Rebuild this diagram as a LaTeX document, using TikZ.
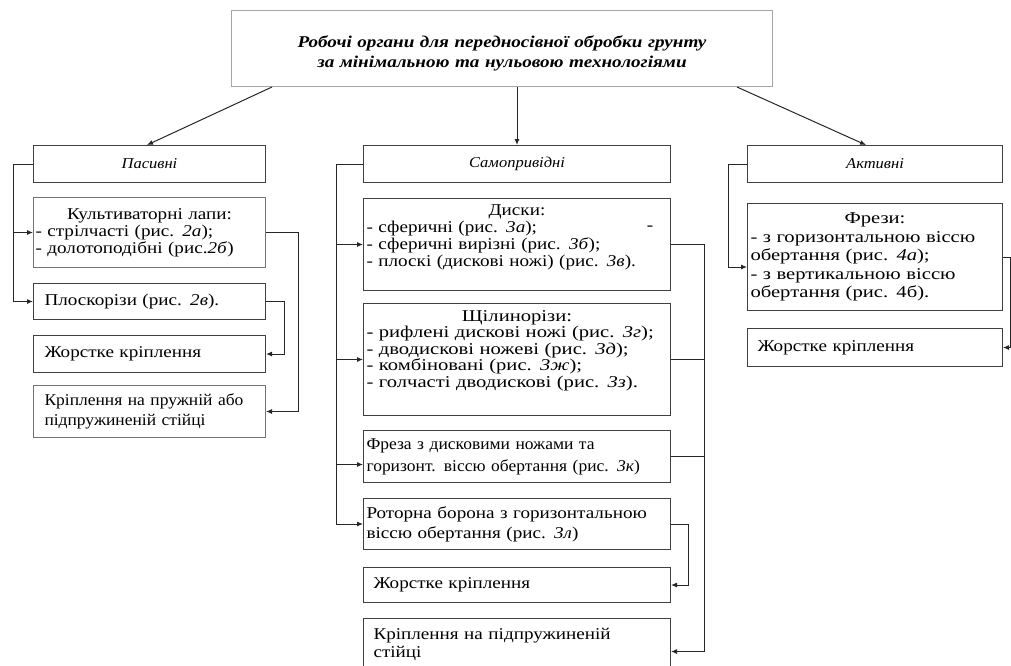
\documentclass[tikz,border=0pt]{standalone}
\usepackage{fontspec}
\setmainfont{Liberation Serif}[FakeStretch=1.16]
\newfontfamily\nar{Liberation Serif}[FakeStretch=1.06]
\newfontfamily\wid{Liberation Serif}[FakeStretch=1.25]
\newfontfamily\hdr{Liberation Serif}[FakeStretch=1.1]
\usetikzlibrary{arrows.meta,calc}
\newcommand\bt{\fontsize{16.5}{17}\selectfont}
\newcommand\hd{\hdr\itshape\fontsize{15}{17}\selectfont}
\newcommand\ttl[1]{\null\hfill #1\hfill\null}
\tikzset{
  box/.style={draw=black!75, line width=1pt, anchor=north west, inner xsep=4pt, inner ysep=1pt, font=\bt, align=left},
  lbox/.style={box, text width=224pt},
  cbox/.style={box, text width=299pt},
  rbox/.style={box, text width=247pt},
  arr/.style={draw=black!85, line width=1pt, -{Latex[length=6pt,width=5pt]}},
  ln/.style={draw=black!85, line width=1pt},
}
\begin{document}
\begin{tikzpicture}[x=1pt,y=-1pt]
\useasboundingbox (0,0) rectangle (1011,665);
% top
\node[box, draw=black!35, inner xsep=4pt, text width=533pt, minimum height=76pt, align=center, font=\bfseries\itshape\fontsize{16.5}{20}\selectfont] (top) at (231,10) {\rule{0pt}{22pt}Робочі органи для передносівної обробки грунту\\за мінімальною та нульовою технологіями};
% left column
\node[lbox, minimum height=37pt, align=center, font=\hd] (pas) at (33,145) {Пасивні};
\node[box, draw=black!55, inner xsep=2pt, text width=228pt, minimum height=70pt] (kul) at (33,197) {\ttl{Культиваторні лапи:}\\- стрілчасті (рис. \textit{2а});\\- долотоподібні (рис.\textit{2б})};
\node[box, inner xsep=11pt, text width=210pt, minimum height=36pt] (plo) at (33,283) {Плоскорізи (рис. \textit{2в}).};
\node[box, inner xsep=11pt, text width=210pt, minimum height=37pt] (zh1) at (33,335) {Жорстке кріплення};
\node[box, draw=black!55, inner xsep=11pt, text width=210pt, minimum height=52pt, font=\nar\fontsize{16.5}{20}\selectfont] (kr1) at (33,385) {Кріплення на пружній або\\підпружиненій стійці};
% center column
\node[cbox, minimum height=37pt, align=center, font=\hd] (sam) at (363,145) {Самопривідні};
\node[box, inner xsep=3pt, text width=301pt, minimum height=92pt] (dys) at (363,198) {\ttl{Диски:}\\- сферичні (рис. \textit{3а});\\- сферичні вирізні (рис. \textit{3б});\\- плоскі (дискові ножі) (рис. \textit{3в}).\rule[-17pt]{0pt}{0pt}};
\node[font=\bt] (dash) at (650,228) {-};
\node[box, inner xsep=3pt, text width=301pt, minimum height=112pt, font=\wid\fontsize{16.5}{16.5}\selectfont] (shch) at (363,303) {\ttl{Щілинорізи:}\\- рифлені дискові ножі (рис. \textit{3г});\\- дводискові ножеві (рис. \textit{3д});\\- комбіновані (рис. \textit{3ж});\\- голчасті дводискові (рис. \textit{3з}).\rule[-21pt]{0pt}{0pt}};
\node[box, inner xsep=3pt, text width=301pt, minimum height=52pt, font=\nar\fontsize{16.5}{22}\selectfont] (fre) at (363,430) {Фреза з дисковими ножами та\\горизонт. віссю обертання (рис. \textit{3к})};
\node[box, inner xsep=3pt, text width=301pt, minimum height=51pt, font=\fontsize{16.5}{20}\selectfont] (rot) at (363,498) {Роторна борона з горизонтальною\\віссю обертання (рис. \textit{3л})};
\node[box, inner xsep=10pt, text width=287pt, minimum height=35pt] (zh2) at (363,567) {Жорстке кріплення};
\node[box, inner xsep=10pt, text width=287pt, minimum height=52pt, font=\fontsize{16.5}{18}\selectfont] (kr2) at (363,618) {Кріплення на підпружиненій\\стійці};
% right column
\node[rbox, minimum height=37pt, align=center, font=\hd] (akt) at (747,145) {Активні};
\node[box, inner xsep=3pt, text width=249pt, minimum height=107pt, font=\wid\fontsize{16.5}{18.5}\selectfont] (frz) at (747,203) {\ttl{Фрези:}\\- з горизонтальною віссю\\обертання (рис. \textit{4а});\\- з вертикальною віссю\\обертання (рис. 4б).};
\node[box, inner xsep=10pt, text width=235pt, minimum height=38pt] (zh3) at (747,328) {Жорстке кріплення};
% connectors from top
\draw[arr] ($(top.south west)+(41,0)$) -- ($(pas.north west)+(114,0)$);
\draw[arr] (top.south -| sam.north) -- (sam.north);
\draw[arr] ($(top.south west)+(506,0)$) -- ($(akt.north west)+(119,0)$);
% left
\draw[arr] (pas.west) -- ++(-20,0) coordinate (lb) |- (plo.west);
\draw[arr] (lb |- kul.west) -- (kul.west);
\draw[arr] (kul.east) -- ++(32,0) |- (kr1.east);
\draw[arr] (plo.east) -- ++(18,0) |- (zh1.east);
% center
\draw[arr] (sam.west) -- ++(-27,0) coordinate (cb) |- (rot.west);
\draw[arr] (cb |- dys.west) -- (dys.west);
\draw[arr] (cb |- shch.west) -- (shch.west);
\draw[arr] ($(cb |- fre.west)+(0,8)$) -- ($(fre.west)+(0,8)$);
\draw[arr] (dys.east) -- ++(33,0) coordinate (rb) |- ($(kr2.east)+(0,7)$);
\draw[ln] (shch.east) -- (rb |- shch.east);
\draw[ln] (fre.east) -- (rb |- fre.east);
\draw[arr] (rot.east) -- ++(17,0) |- (zh2.east);
% right
\draw[arr] (akt.west) -- ++(-19,0) |- ($(frz.west)+(0,10)$);
\draw[arr] (frz.east) -- ++(7,0) |- (zh3.east);
\end{tikzpicture}
\end{document}
